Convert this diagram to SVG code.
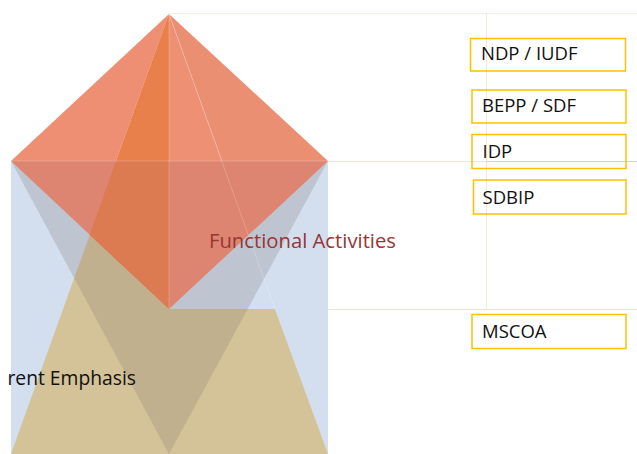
<svg xmlns="http://www.w3.org/2000/svg" width="637" height="454" viewBox="0 0 637 454">
  <style>
    .box { fill: none; stroke: #FFC000; stroke-width: 1.5; }
    .lbl { font-family: "Open Sans", "Noto Sans", "Liberation Sans", sans-serif; font-size: 18.5px; fill: #111111; }
    .edge { stroke: #FFFFFF; stroke-opacity: 0.2; stroke-width: 1; fill: none; }
    .guide { fill: none; stroke-width: 1; }
  </style>
  <rect x="0" y="0" width="637" height="454" fill="#FFFFFF"/>

  <g id="guides">
    <line class="guide" x1="169" y1="13.5" x2="637" y2="13.5" stroke="#F9EDE6"/>
    <line class="guide" x1="486.5" y1="13" x2="486.5" y2="309" stroke="#FBEAC6"/>
    <line class="guide" x1="328" y1="161.5" x2="486" y2="161.5" stroke="#FAE3D2"/>
    <line class="guide" x1="486" y1="161.5" x2="637" y2="161.5" stroke="#F4C6BA"/>
    <line class="guide" x1="169" y1="309.5" x2="637" y2="309.5" stroke="#F3E4D2"/>
  </g>

  <g id="pyramid">
    <rect x="11" y="161" width="317" height="293" fill="#D3DFEF"/>
    <polygon points="169,14 11,454 328,454 274.9,309 169,309" fill="rgb(214,177,93)" fill-opacity="0.6"/>
    <polygon points="11,161 328,161 169,454" fill="rgb(128,116,107)" fill-opacity="0.24"/>
    <!-- upper pyramid faces -->
    <polygon points="169,14 11,161 116,161" fill="#EE8E72"/>
    <polygon points="169,14 116,161 169,161" fill="#E8804C"/>
    <polygon points="169,14 169,161 222,161" fill="#EE9074"/>
    <polygon points="169,14 222,161 328,161" fill="#EB8F73"/>
    <!-- lower inverted faces -->
    <polygon points="11,161 328,161 169,309" fill="#DE8571"/>
    <polygon points="116,161 169,161 169,309 89.7,234.8" fill="#DC7A52"/>
    <!-- light edges -->
    <line class="edge" x1="169" y1="14" x2="169" y2="309"/>
    <line class="edge" x1="11" y1="161" x2="328" y2="161"/>
    <line class="edge" x1="169" y1="14" x2="274.9" y2="309"/>
  </g>

  <g id="label-functional">
    <text x="209" y="248" font-family="'Open Sans', 'Noto Sans', 'Liberation Sans', sans-serif" font-size="20" fill="#953735" textLength="187" lengthAdjust="spacingAndGlyphs">Functional Activities</text>
  </g>
  <g id="label-emphasis">
    <text x="136" y="385" text-anchor="end" font-family="'Open Sans', 'Noto Sans', 'Liberation Sans', sans-serif" font-size="19.3" fill="#111111">rent Emphasis</text>
  </g>

  <g id="box-ndp">
    <rect class="box" x="470.5" y="38.5" width="155" height="32.5"/>
    <text class="lbl" x="481" y="60.3">NDP / IUDF</text>
  </g>
  <g id="box-bepp">
    <rect class="box" x="472" y="90" width="154" height="33"/>
    <text class="lbl" x="482" y="112.3">BEPP / SDF</text>
  </g>
  <g id="box-idp">
    <rect class="box" x="472" y="134.5" width="154" height="34"/>
    <text class="lbl" x="482.5" y="158.3">IDP</text>
  </g>
  <g id="box-sdbip">
    <rect class="box" x="473.5" y="180" width="152.5" height="34"/>
    <text class="lbl" x="482.5" y="204">SDBIP</text>
  </g>
  <g id="box-mscoa">
    <rect class="box" x="472" y="314.5" width="154" height="34"/>
    <text class="lbl" x="482" y="337.7">MSCOA</text>
  </g>
</svg>
